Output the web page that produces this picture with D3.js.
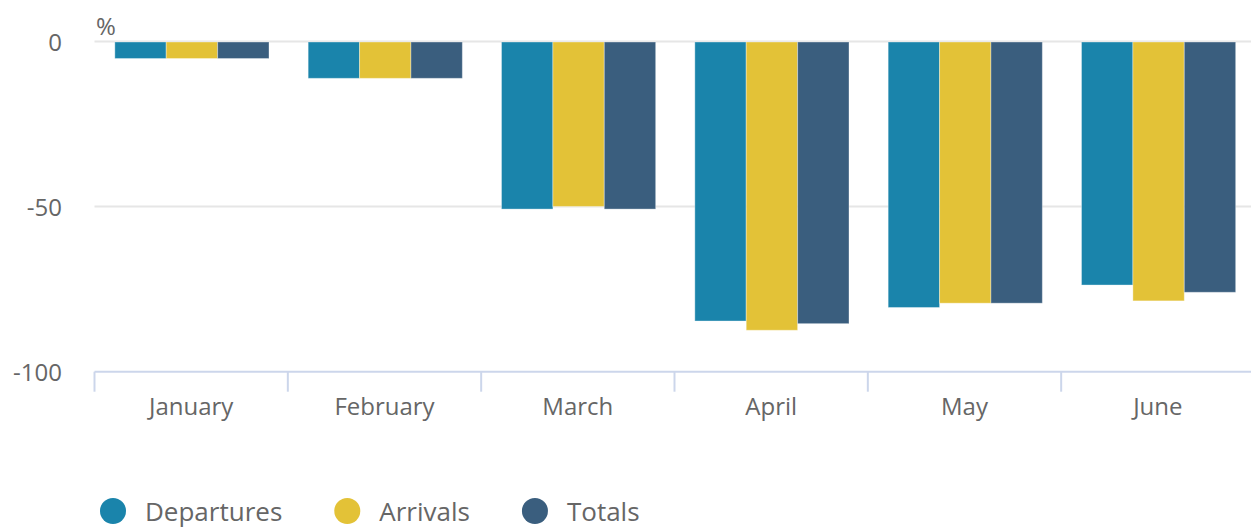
<!DOCTYPE html>
<html>
<head>
<meta charset="utf-8">
<script src="https://cdn.jsdelivr.net/npm/d3@7"></script>
<style>
  html, body { margin: 0; padding: 0; background: #fff; }
  svg { display: block; font-family: "Open Sans", sans-serif; }
</style>
</head>
<body>
<svg id="chart" width="1251" height="529"></svg>
<script>
const months = ["January", "February", "March", "April", "May", "June"];
const seriesNames = ["Departures", "Arrivals", "Totals"];
const seriesColors = ["#1a84ab", "#e3c237", "#3a5e7e"];
const departures = [-5, -11, -50.6, -84.5, -80.4, -73.6];
const arrivals = [-5, -11, -49.8, -87.3, -79.1, -78.4];
const totals = [-5, -11, -50.6, -85.3, -79.1, -75.8];
const yTicks = [0, -50, -100];

const seriesValues = [departures, arrivals, totals];
const svg = d3.select("#chart");

const x = d3.scaleBand().domain(months).range([94.5, 1254.5]).paddingInner(0).paddingOuter(0);
const xInner = d3.scaleBand().domain(seriesNames)
  .range([x.bandwidth() * 0.1 + 1, x.bandwidth() * 0.9 + 0.5]).paddingInner(0).paddingOuter(0);
const y = d3.scaleLinear().domain([-100, 0]).range([371.7, 41.5]);

// gridlines
svg.append("g").selectAll("line").data(yTicks.filter(d => d !== -100)).join("line")
  .attr("x1", 94.5).attr("x2", 1251)
  .attr("y1", d => y(d)).attr("y2", d => y(d))
  .attr("stroke", "#e6e6e6").attr("stroke-width", 2);

// y labels
svg.append("g").selectAll("text").data(yTicks).join("text")
  .attr("x", 62).attr("y", d => y(d) + 9.5)
  .attr("text-anchor", "end")
  .attr("font-size", 24).attr("fill", "#666")
  .text(d => d);

// % label
svg.append("text").attr("x", 96).attr("y", 35)
  .attr("font-size", 24).attr("fill", "#666").text("%");

// bars
const groups = svg.append("g").selectAll("g").data(months).join("g")
  .attr("transform", d => `translate(${x(d)},0)`);
groups.selectAll("rect")
  .data((m, i) => seriesNames.map((s, k) => ({ s, k, v: seriesValues[k][i] })))
  .join("rect")
  .attr("x", d => xInner(d.s))
  .attr("width", xInner.bandwidth())
  .attr("y", d => y(0) + 0.5)
  .attr("height", d => y(d.v) - y(0))
  .attr("fill", d => seriesColors[d.k])
  .attr("stroke", "rgba(255,255,255,0.35)")
  .attr("stroke-width", 1);

// x axis
const axisY = y(-100);
svg.append("line").attr("x1", 94.5).attr("x2", 1251).attr("y1", axisY).attr("y2", axisY)
  .attr("stroke", "#ccd6eb").attr("stroke-width", 2);
svg.append("g").selectAll("line").data(months).join("line")
  .attr("x1", d => x(d)).attr("x2", d => x(d))
  .attr("y1", axisY).attr("y2", axisY + 20)
  .attr("stroke", "#ccd6eb").attr("stroke-width", 2);
svg.append("g").selectAll("text").data(months).join("text")
  .attr("x", d => x(d) + x.bandwidth() / 2).attr("y", 415)
  .attr("text-anchor", "middle")
  .attr("font-size", 24).attr("fill", "#666")
  .text(d => d);

// legend
const legend = svg.append("g");
let lx = 113;
seriesNames.forEach((name, k) => {
  legend.append("circle").attr("cx", lx).attr("cy", 511).attr("r", 13).attr("fill", seriesColors[k]);
  const t = legend.append("text").attr("x", lx + 32).attr("y", 521)
    .attr("font-size", 26).attr("fill", "#666").text(name);
  const w = t.node().getComputedTextLength();
  lx = lx + 32 + w + 52 + 13;
});
</script>
</body>
</html>
